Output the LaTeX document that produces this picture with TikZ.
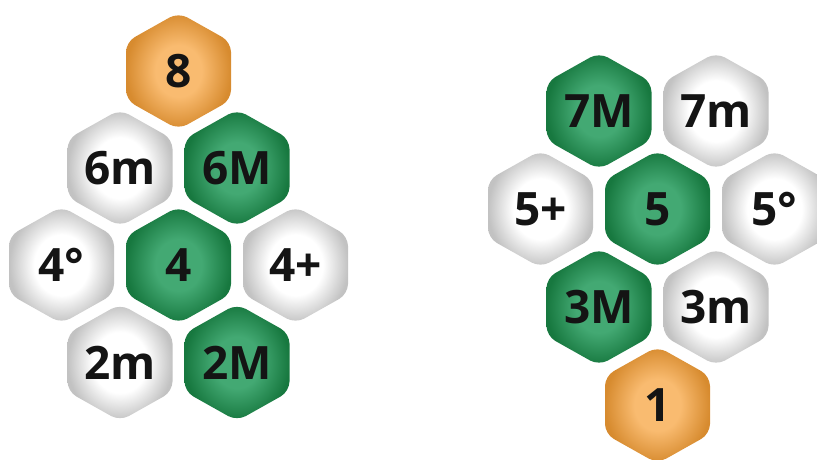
\documentclass[tikz,border=0pt]{standalone}
\usepackage{fontspec}
\setmainfont{Open Sans}
\definecolor{orIn}{HTML}{F9BB70}
\definecolor{orOut}{HTML}{D78B2F}
\definecolor{grIn}{HTML}{43A973}
\definecolor{grOut}{HTML}{17783F}
\definecolor{gyIn}{HTML}{FFFFFF}
\definecolor{gyOut}{HTML}{C2C2C2}
\pgfdeclareradialshading{shOr}{\pgfpoint{0bp}{0bp}}{color(0bp)=(orIn); color(11bp)=(orIn); color(25bp)=(orOut); color(50bp)=(orOut)}
\pgfdeclareradialshading{shGr}{\pgfpoint{0bp}{0bp}}{color(0bp)=(grIn); color(11bp)=(grIn); color(25bp)=(grOut); color(50bp)=(grOut)}
\pgfdeclareradialshading{shGy}{\pgfpoint{0bp}{0bp}}{color(0bp)=(gyIn); color(13bp)=(gyIn); color(25bp)=(gyOut); color(50bp)=(gyOut)}
\tikzset{
  hexlabel/.style={font=\bfseries\fontsize{46}{46}\selectfont, text=black!92, inner sep=0pt},
  hexbody/.style={rounded corners=10pt}
}
\newcommand\hexcell[5]{%
  \shade[hexbody, shading=#4] ({#2},{#3-58.5}) -- ({#2+52.5},{#3-29}) -- ({#2+52.5},{#3+29}) -- ({#2},{#3+58.5}) -- ({#2-52.5},{#3+29}) -- ({#2-52.5},{#3-29}) -- cycle;
  \node[hexlabel] (#1) at (#2,#3) {#5};}
\begin{document}
\begin{tikzpicture}[x=1pt,y=-1pt]
\useasboundingbox (0,0) rectangle (817,460);
\clip (0,0) rectangle (817,460);
% left group
\hexcell{l8}{178.5}{71}{shOr}{8}
\hexcell{l6m}{120}{168}{shGy}{6m}
\hexcell{l6M}{237}{168}{shGr}{6M}
\hexcell{l4o}{61.5}{265}{shGy}{4°}
\hexcell{l4}{178.5}{265}{shGr}{4}
\hexcell{l4p}{295.5}{265}{shGy}{4+}
\hexcell{l2m}{120}{362.5}{shGy}{2m}
\hexcell{l2M}{237}{362.5}{shGr}{2M}
% right group
\hexcell{r7M}{599}{111}{shGr}{7M}
\hexcell{r7m}{716}{111}{shGy}{7m}
\hexcell{r5p}{540.5}{209}{shGy}{5+}
\hexcell{r5}{657.5}{209}{shGr}{5}
\hexcell{r5o}{774.5}{209}{shGy}{5°}
\hexcell{r3M}{599}{307}{shGr}{3M}
\hexcell{r3m}{716}{307}{shGy}{3m}
\hexcell{r1}{657.5}{405}{shOr}{1}
\end{tikzpicture}
\end{document}
